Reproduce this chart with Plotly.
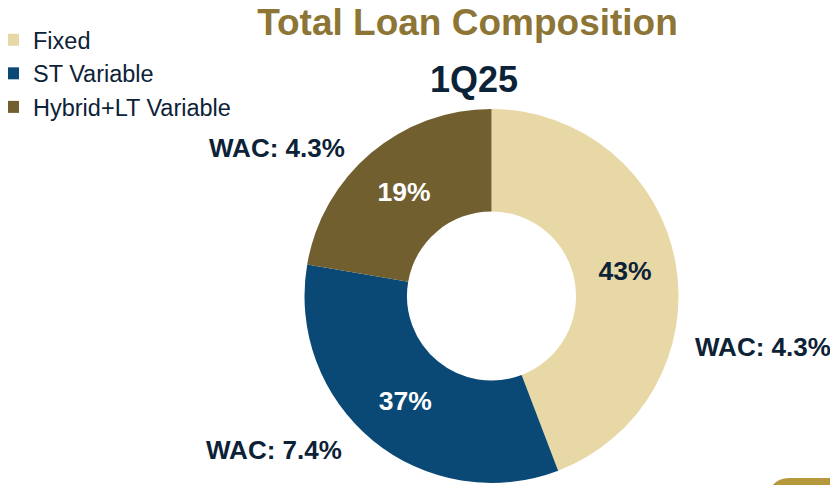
import plotly.graph_objects as go

# slice shares as drawn (the printed labels are rounded differently in the source)
categories = ["Fixed", "ST Variable", "Hybrid+LT Variable"]
shares = [44.2, 33.5, 22.3]
share_labels = ["43%", "37%", "19%"]
wac_labels = ["WAC: 4.3%", "WAC: 7.4%", "WAC: 4.3%"]

colors = ["#e8d8a6", "#0a4875", "#725f2f"]
text_colors = ["#0c2236", "#ffffff", "#ffffff"]
navy = "#0c2236"
gold = "#8c7535"
font = "Liberation Sans, Arial, sans-serif"

W, H = 838, 485
OFF = 8  # page body margin shifts the plot by this much


def px(x):
    return (x - OFF) / W


def py(y):
    return 1 - (y - OFF) / H


cx, cy, r = 491.5, 296, 187

fig = go.Figure(
    go.Pie(
        labels=categories,
        values=shares,
        text=share_labels,
        texttemplate="%{text}",
        textposition="inside",
        insidetextorientation="horizontal",
        textfont=dict(family=font, size=26.5, color=text_colors, weight="bold"),
        marker=dict(colors=colors, line=dict(width=0)),
        hole=0.452,
        sort=False,
        direction="clockwise",
        rotation=0,
        domain=dict(x=[px(cx - r), px(cx + r)], y=[py(cy + r), py(cy - r)]),
        hoverinfo="label+text",
    )
)

# WAC callouts next to each slice
wac_pos = [(762.5, 347), (273.5, 450), (276.5, 148)]
annotations = []
for txt, (x, y) in zip(wac_labels, wac_pos):
    annotations.append(
        dict(text=f"<b>{txt}</b>", x=px(x), y=py(y), xref="paper", yref="paper",
             showarrow=False, font=dict(family=font, size=26, color=navy),
             xanchor="center", yanchor="middle")
    )
annotations.append(
    dict(text="<b>1Q25</b>", x=px(474), y=py(79), xref="paper", yref="paper",
         showarrow=False, font=dict(family=font, size=36, color=navy),
         xanchor="center", yanchor="middle")
)

fig.update_layout(
    width=W,
    height=H,
    margin=dict(l=0, r=0, t=0, b=0),
    paper_bgcolor="white",
    plot_bgcolor="white",
    title=dict(text="<b>Total Loan Composition</b>", x=px(467.5), y=py(22),
               xanchor="center", yanchor="middle",
               font=dict(family=font, size=37, color=gold)),
    showlegend=True,
    legend=dict(x=0, y=py(18), xanchor="left", yanchor="top", indentation=-15,
                font=dict(family=font, size=23.5, color=navy),
                bgcolor="rgba(0,0,0,0)", traceorder="normal"),
    annotations=annotations,
    shapes=[
        dict(type="path", xref="paper", yref="paper",
             path=f"M {px(770)} {py(490)} Q {px(775)} {py(478)} {px(790)} {py(478)} "
                  f"L {px(850)} {py(478)} L {px(850)} {py(490)} Z",
             fillcolor="#b5983c", line=dict(width=0)),
    ],
)

fig.write_html("out.html")
